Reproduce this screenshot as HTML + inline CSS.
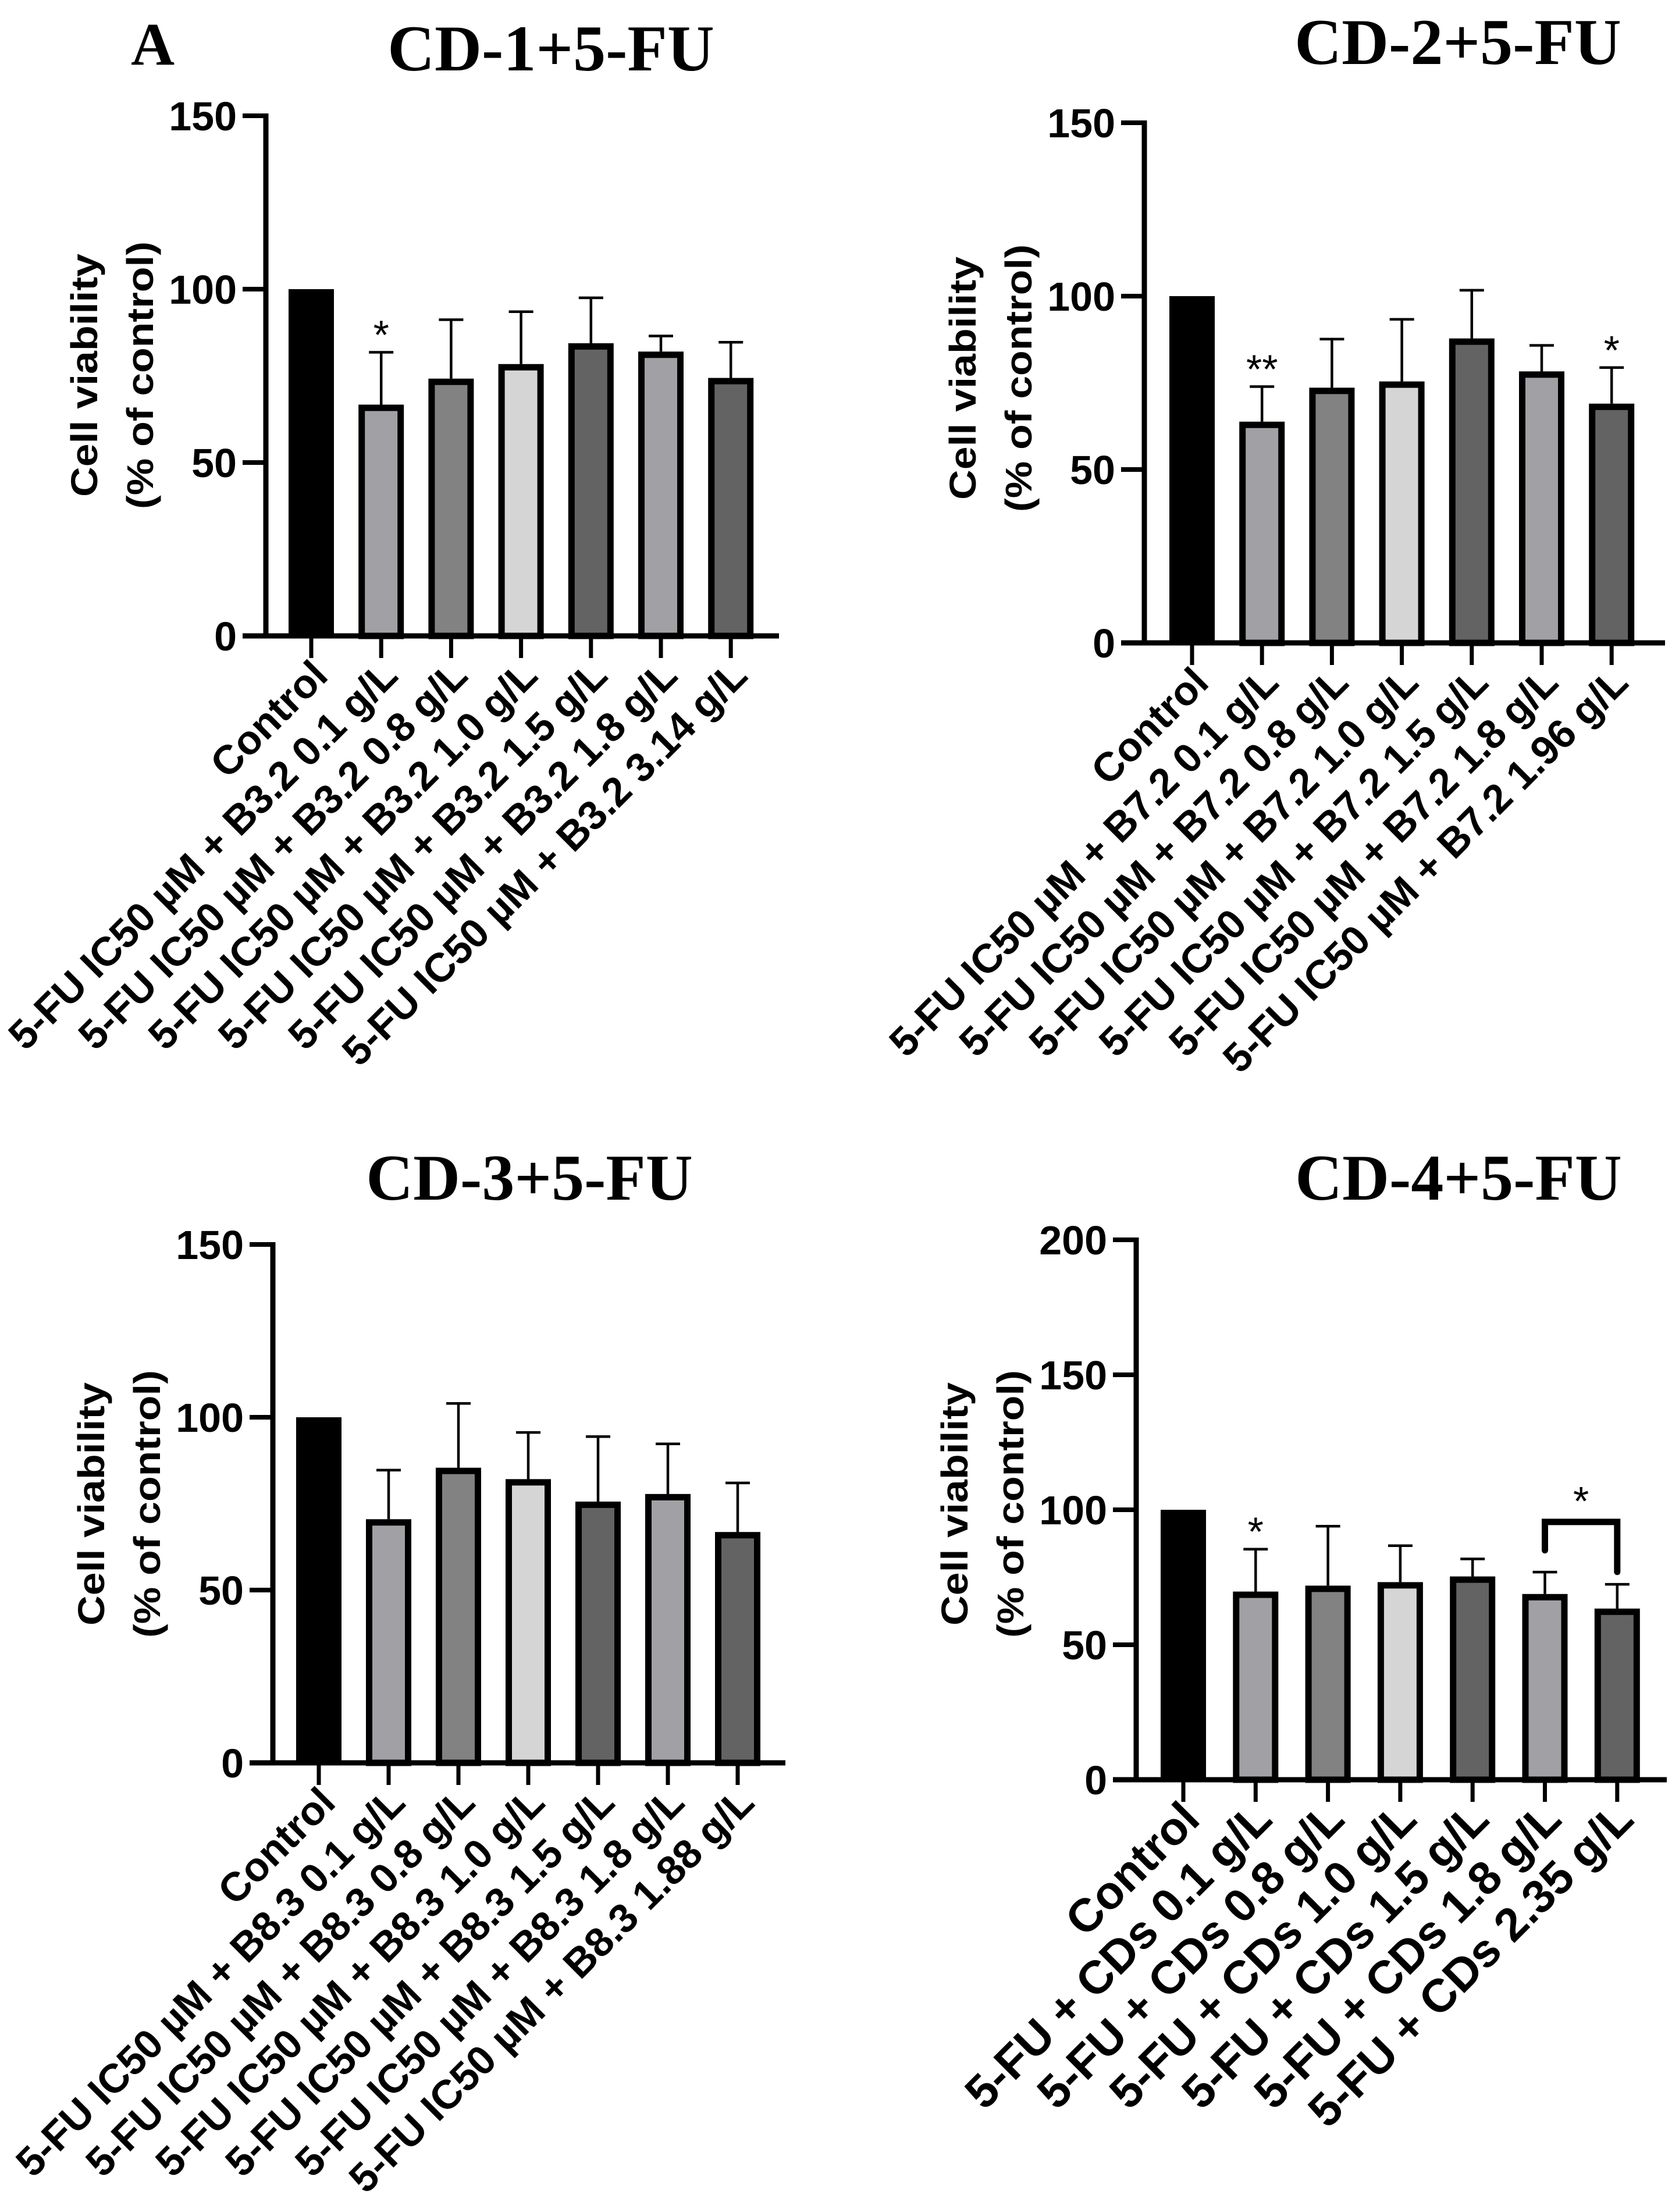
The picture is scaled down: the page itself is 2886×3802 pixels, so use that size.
<!DOCTYPE html>
<html><head><meta charset="utf-8"><style>
html,body{margin:0;padding:0;background:#fff;}
svg{display:block;}
</style></head><body>
<svg id="fig" xmlns="http://www.w3.org/2000/svg" width="2886" height="3802" viewBox="0 0 2886 3802">
<rect x="0" y="0" width="2886" height="3802" fill="#fff"/>
<text x="225" y="111" font-family="Liberation Serif, serif" font-weight="bold" font-size="104">A</text>
</svg>
<script>
// ---- data ----
var colorsA = ["#000000","#a1a1a5","#828282","#d5d5d5","#636363","#a1a1a5","#636363"];
var titles = ["CD-1+5-FU","CD-2+5-FU","CD-3+5-FU","CD-4+5-FU"];
var labelsA = ["Control","5-FU IC50 µM + B3.2 0.1 g/L","5-FU IC50 µM + B3.2 0.8 g/L","5-FU IC50 µM + B3.2 1.0 g/L","5-FU IC50 µM + B3.2 1.5 g/L","5-FU IC50 µM + B3.2 1.8 g/L","5-FU IC50 µM + B3.2 3.14 g/L"];
var labelsB = ["Control","5-FU IC50 µM + B7.2 0.1 g/L","5-FU IC50 µM + B7.2 0.8 g/L","5-FU IC50 µM + B7.2 1.0 g/L","5-FU IC50 µM + B7.2 1.5 g/L","5-FU IC50 µM + B7.2 1.8 g/L","5-FU IC50 µM + B7.2 1.96 g/L"];
var labelsC = ["Control","5-FU IC50 µM + B8.3 0.1 g/L","5-FU IC50 µM + B8.3 0.8 g/L","5-FU IC50 µM + B8.3 1.0 g/L","5-FU IC50 µM + B8.3 1.5 g/L","5-FU IC50 µM + B8.3 1.8 g/L","5-FU IC50 µM + B8.3 1.88 g/L"];
var labelsD = ["Control","5-FU + CDs 0.1 g/L","5-FU + CDs 0.8 g/L","5-FU + CDs 1.0 g/L","5-FU + CDs 1.5 g/L","5-FU + CDs 1.8 g/L","5-FU + CDs 2.35 g/L"];
var valuesA = [100, 66.7, 74.2, 78.4, 84.4, 82.0, 74.4];
var errTopA = [100, 81.8, 91.2, 93.5, 97.5, 86.5, 84.7];
var valuesB = [100, 63.8, 73.6, 75.4, 87.8, 78.3, 69.0];
var errTopB = [100, 73.9, 87.6, 93.3, 101.7, 85.8, 79.4];
var valuesC = [100, 70.5, 85.4, 82.1, 75.6, 77.8, 66.8];
var errTopC = [100, 84.7, 104.0, 95.6, 94.4, 92.3, 81.0];
var valuesD = [100, 69.7, 71.9, 73.2, 75.3, 68.8, 63.4];
var errTopD = [100, 85.4, 93.9, 86.7, 81.8, 76.9, 72.4];
var starsA = ["", "*", "", "", "", "", ""];
var starsB = ["", "**", "", "", "", "", "*"];
var starsC = ["", "", "", "", "", "", ""];
var starsD = ["", "*", "", "", "", "", ""];
var ticksABC = [0, 50, 100, 150];
var ticksD = [0, 50, 100, 150, 200];
var bracketD = {from: 5, to: 6, level: 95.5, legFrom: 85, legTo: 77, star: "*"};

var NS = "http://www.w3.org/2000/svg";
var svg = document.getElementById("fig");
function mk(tag, attrs, parent){
  var e = document.createElementNS(NS, tag);
  for (var k in attrs) e.setAttribute(k, attrs[k]);
  (parent||svg).appendChild(e); return e;
}

// layout per panel (pixel geometry only)
var panels = [
  {key:"a", title:titles[0], tx:947, ty:121, ax:457, y0:1093, ymaxPx:199, ymax:150, xend:1339, x0:535, step:120.2, labels:labelsA, vals:valuesA, errs:errTopA, stars:starsA, ticks:ticksABC, lab:70, ytx:145, yty:645},
  {key:"b", title:titles[1], tx:2506, ty:110, ax:1967, y0:1105, ymaxPx:211, ymax:150, xend:2862, x0:2049, step:120.2, labels:labelsB, vals:valuesB, errs:errTopB, stars:starsB, ticks:ticksABC, lab:70, ytx:1655, yty:650},
  {key:"c", title:titles[2], tx:910, ty:2062, ax:469, y0:3030, ymaxPx:2139, ymax:150, xend:1350, x0:548, step:120, labels:labelsC, vals:valuesC, errs:errTopC, stars:starsC, ticks:ticksABC, lab:70, ytx:157, yty:2585},
  {key:"d", title:titles[3], tx:2507, ty:2062, ax:1953, y0:3059, ymaxPx:2131, ymax:200, xend:2865, x0:2034, step:124.3, labels:labelsD, vals:valuesD, errs:errTopD, stars:starsD, ticks:ticksD, lab:80, ytx:1641, yty:2585}
];

panels.forEach(function(p){
  var g = mk("g", {});
  
  
  function yScale(v){ return p.y0 - (p.y0 - p.ymaxPx) * v / p.ymax; }
  function xScale(i){ return p.x0 + i * p.step; }

  var t = mk("text", {x:p.tx, y:p.ty, "text-anchor":"middle", "font-family":"Liberation Serif, serif", "font-weight":"bold", "font-size":"112"}, g);
  t.textContent = p.title;
  
  

  // y title
  var yt1 = mk("text", {x:0, y:0, transform:"translate("+(p.ytx+22)+","+p.yty+") rotate(-90)", "text-anchor":"middle", "font-family":"Liberation Sans Narrow, Liberation Sans, sans-serif", "font-weight":"bold", "font-size":"64", textLength:"418", lengthAdjust:"spacingAndGlyphs"}, g);
  yt1.textContent = "Cell viability";
  
  
  var yt2 = mk("text", {x:0, y:0, transform:"translate("+(p.ytx+118)+","+p.yty+") rotate(-90)", "text-anchor":"middle", "font-family":"Liberation Sans Narrow, Liberation Sans, sans-serif", "font-weight":"bold", "font-size":"64", textLength:"460", lengthAdjust:"spacingAndGlyphs"}, g);
  yt2.textContent = "(% of control)";
  
  

  // bars
  p.vals.forEach(function(v, i){
    var cx = xScale(i), top = yScale(v), w = 78;
    var r;
    if (i === 0) {
      r = mk("rect", {x:cx - w/2, y:top, width:w, height:p.y0 - top, fill:colorsA[i]}, g);
    } else {
      r = mk("rect", {x:cx - w/2 + 5.5, y:top + 5.5, width:w - 11, height:p.y0 - top - 5.5, fill:colorsA[i], stroke:"#000", "stroke-width":"11"}, g);
    }
    
    
    if (i > 0) {
      var et = yScale(p.errs[i]);
      var el = mk("path", {d:"M"+cx+" "+top+" V"+et+" M"+(cx-21)+" "+et+" H"+(cx+21), stroke:"#000", "stroke-width":"4.5", fill:"none"}, g);
      
      
      if (p.stars[i]) {
        var st = mk("text", {x:cx, y:et - 6, "text-anchor":"middle", "font-family":"Liberation Sans, sans-serif", "font-size":"70"}, g);
        st.textContent = p.stars[i];
        
        
      }
    }
    // x tick
    var tk = mk("line", {x1:cx, y1:p.y0, x2:cx, y2:p.y0 + 38, stroke:"#000", "stroke-width":"7"}, g);
    
    
    var lb = mk("text", {x:0, y:0, transform:"translate("+(cx + 32)+","+(p.y0 + 72)+") rotate(-45)", "text-anchor":"end", "font-family":"Liberation Sans, sans-serif", "font-weight":"bold", "font-size":p.lab}, g);
    lb.textContent = p.labels[i];
    
    
  });

  // axes
  var ya = mk("line", {x1:p.ax, y1:p.ymaxPx - 4, x2:p.ax, y2:p.y0 + 4, stroke:"#000", "stroke-width":"9"}, g);
  
  
  var xa = mk("line", {x1:p.ax - 40, y1:p.y0, x2:p.xend, y2:p.y0, stroke:"#000", "stroke-width":"9"}, g);
  
  
  p.ticks.forEach(function(tv){
    var ty = yScale(tv);
    var tl = mk("line", {x1:p.ax - 40, y1:ty, x2:p.ax, y2:ty, stroke:"#000", "stroke-width":"8"}, g);
    
    
    var tt = mk("text", {x:p.ax - 50, y:ty + 25, "text-anchor":"end", "font-family":"Liberation Sans, sans-serif", "font-weight":"bold", "font-size":"70"}, g);
    tt.textContent = String(tv);
    
    
  });

  if (p.key === "d") {
    var bx1 = xScale(bracketD.from), bx2 = xScale(bracketD.to), by = yScale(bracketD.level);
    var br = mk("path", {d:"M"+bx1+" "+yScale(bracketD.legFrom)+" V"+by+" H"+bx2+" V"+yScale(bracketD.legTo), stroke:"#000", "stroke-width":"11", fill:"none", "stroke-linecap":"round", "stroke-linejoin":"miter"}, g);
    
    
    var bs = mk("text", {x:(bx1 + bx2) / 2, y:by - 12, "text-anchor":"middle", "font-family":"Liberation Sans, sans-serif", "font-size":"70"}, g);
    bs.textContent = bracketD.star;
    
    
  }
});
</script>
</body></html>
